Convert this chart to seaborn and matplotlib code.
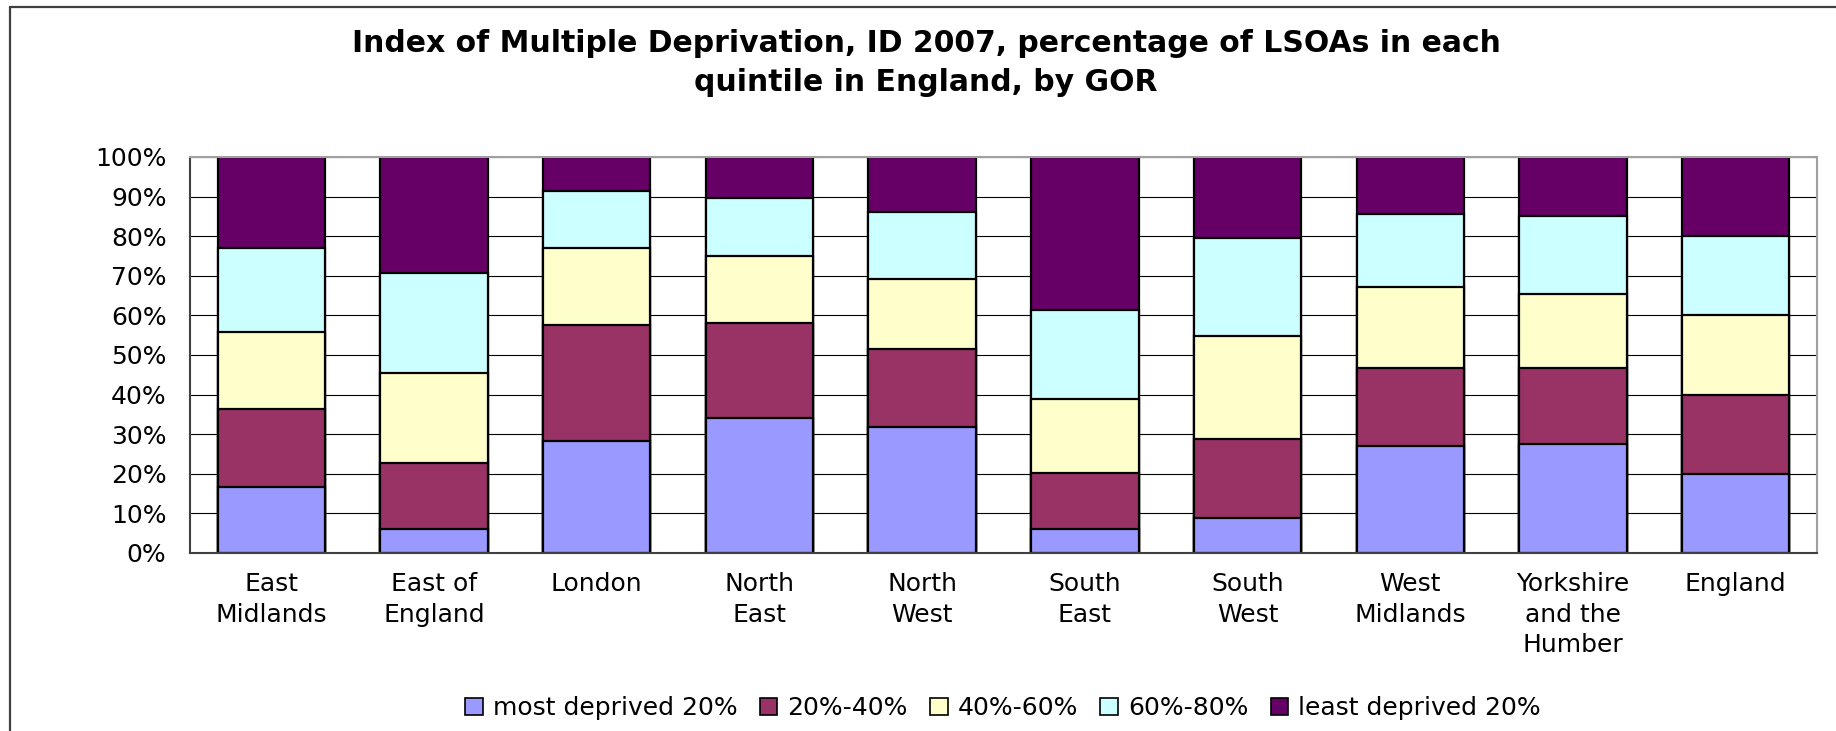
import numpy as np
import pandas as pd
import matplotlib
matplotlib.use("Agg")
import matplotlib.pyplot as plt
from matplotlib.patches import Patch
from matplotlib.lines import Line2D
import seaborn as sns

# Data (percent of LSOAs in each IMD quintile, by GOR)
regions = ["East\nMidlands", "East of\nEngland", "London", "North\nEast", "North\nWest",
           "South\nEast", "South\nWest", "West\nMidlands", "Yorkshire\nand the\nHumber", "England"]
quintiles = ["most deprived 20%", "20%-40%", "40%-60%", "60%-80%", "least deprived 20%"]
most_deprived = [16.6, 6.1, 28.2, 34.2, 31.8, 6.1, 8.8, 27.1, 27.6, 20.0]
q_20_40 = [19.7, 16.6, 29.3, 23.8, 19.6, 14.1, 19.9, 19.7, 19.2, 20.0]
q_40_60 = [19.6, 22.7, 19.6, 17.0, 17.7, 18.7, 26.2, 20.3, 18.7, 20.0]
q_60_80 = [21.2, 25.2, 14.2, 14.7, 17.0, 22.4, 24.7, 18.6, 19.6, 20.0]
least_deprived = [22.9, 29.4, 8.7, 10.3, 13.9, 38.7, 20.4, 14.3, 14.9, 20.0]
colors = ["#9999FF", "#993366", "#FFFFCC", "#CCFFFF", "#660066"]

series = [most_deprived, q_20_40, q_40_60, q_60_80, least_deprived]
rows = []
for q, vals in zip(quintiles, series):
    for r, v in zip(regions, vals):
        rows.append({"region": r, "quintile": q, "value": v})
df = pd.DataFrame(rows)
df["cum"] = df.groupby("region", sort=False)["value"].cumsum()

sns.set_style("white")
plt.rcParams["font.family"] = ["DejaVu Sans"]
plt.rcParams["text.color"] = "black"
plt.rcParams["xtick.color"] = "black"
plt.rcParams["ytick.color"] = "black"

W, H = 1836, 731
fig = plt.figure(figsize=(W / 100, H / 100), dpi=100)
ax = fig.add_axes([190 / W, 1 - 553 / H, (1817 - 190) / W, (553 - 157) / H])

# draw cumulative layers from the top down so each overlays the one before
for q, c in reversed(list(zip(quintiles, colors))):
    sns.barplot(data=df[df["quintile"] == q], x="region", y="cum", order=regions,
                color=c, saturation=1, width=0.66, edgecolor="black", linewidth=1.6,
                errorbar=None, ax=ax)

ax.set_xlim(-0.5, len(regions) - 0.5)
ax.set_ylim(0, 100)
ax.set_yticks(np.arange(0, 101, 10))
ax.set_yticklabels([f"{t}%" for t in range(0, 101, 10)])
ax.set_axisbelow(True)
ax.yaxis.grid(True, color="black", linewidth=0.8)
ax.xaxis.grid(False)
ax.set_xlabel("")
ax.set_ylabel("")

ax.set_xticks(np.arange(-0.5, len(regions), 1), minor=True)
ax.tick_params(axis="x", which="major", length=0, pad=14, labelsize=18, labelcolor="black")
ax.tick_params(axis="x", which="minor", length=6, width=1, color="black", direction="out")
ax.tick_params(axis="y", length=7, width=1, color="black", direction="out", pad=10,
               labelsize=18, labelcolor="black")
for lab in ax.get_xticklabels():
    lab.set_linespacing(1.33)

for side in ["left", "bottom"]:
    ax.spines[side].set_color("#404040")
    ax.spines[side].set_linewidth(1.5)
for side in ["top", "right"]:
    ax.spines[side].set_color("#a0a0a0")
    ax.spines[side].set_linewidth(1.5)

fig.text(926 / W, 1 - 63 / H,
         "Index of Multiple Deprivation, ID 2007, percentage of LSOAs in each\nquintile in England, by GOR",
         ha="center", va="center", fontsize=21.5, fontweight="bold", linespacing=1.4, color="black")

handles = [Patch(facecolor=c, edgecolor="black", linewidth=1.2, label=q) for q, c in zip(quintiles, colors)]
fig.legend(handles=handles, loc="center", bbox_to_anchor=(1003 / W, 1 - 708 / H), ncol=5,
           frameon=False, fontsize=18, handlelength=0.7, handleheight=0.7,
           handletextpad=0.4, columnspacing=0.9, labelcolor="black")

# chart-area border (top and left edges visible in the original)
fig.add_artist(Line2D([10 / W, 1], [1 - 7 / H, 1 - 7 / H], color="#404040", linewidth=1.6))
fig.add_artist(Line2D([10 / W, 10 / W], [0, 1 - 7 / H], color="#404040", linewidth=1.6))

fig.savefig("out.png", dpi=100)
